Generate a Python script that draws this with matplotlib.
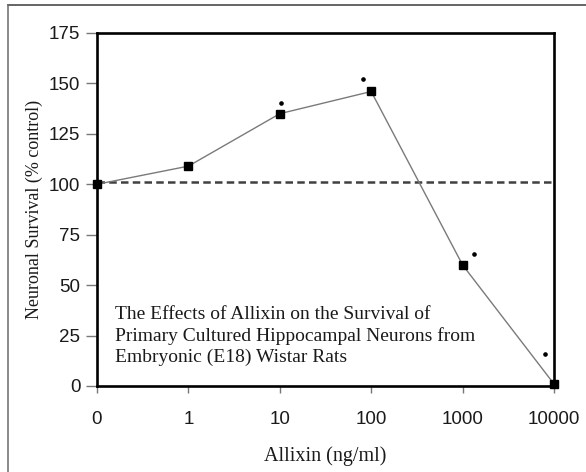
import matplotlib
matplotlib.use("Agg")
import matplotlib.pyplot as plt
from matplotlib.lines import Line2D

# Dose categories (ng/ml) and neuronal survival (% of control)
dose_labels = ["0", "1", "10", "100", "1000", "10000"]
survival = [100, 109, 135, 146, 60, 1]
control_level = 101.3

# Significance markers (category position, value)
sig_x = [2.01, 2.91, 4.12, 4.90]
sig_y = [140.3, 152.2, 65.4, 15.9]

y_ticks = [0, 25, 50, 75, 100, 125, 150, 175]

W, H, DPI = 586, 472, 100
fig = plt.figure(figsize=(W / DPI, H / DPI), dpi=DPI)
fig.patch.set_facecolor("white")

ax = fig.add_axes([97 / W, 1 - 386 / H, (554 - 97) / W, (386 - 33) / H])

x = list(range(len(dose_labels)))

ax.axhline(control_level, color="#404040", lw=1.8, linestyle=(0, (3.0, 1.7)), zorder=2)
ax.plot(x, survival, color="#7a7a7a", lw=1.0, zorder=3)
ax.plot(x, survival, linestyle="none", marker="s", markersize=6.3,
        color="black", zorder=4, clip_on=False)
ax.plot(sig_x, sig_y, linestyle="none", marker="o", markersize=2.3,
        color="black", zorder=4)

ax.set_xlim(0, len(dose_labels) - 1)
ax.set_ylim(0, 175)
ax.set_xticks(x)
ax.set_xticklabels(dose_labels)
ax.set_yticks(y_ticks)

for s in ax.spines.values():
    s.set_linewidth(1.9)
    s.set_color("black")

for lab in ax.get_xticklabels() + ax.get_yticklabels():
    lab.set_fontfamily("Liberation Sans")
    lab.set_fontsize(13.5)
    lab.set_color("#1a1a1a")

ax.tick_params(axis="y", direction="out", length=8, width=1, color="#777777", pad=4)
ax.tick_params(axis="x", direction="out", length=5, width=1, color="#777777", pad=13)

ax.set_xlabel("Allixin (ng/ml)", family="Liberation Serif", fontsize=14.5,
              color="#1a1a1a", labelpad=13)
ax.set_ylabel("Neuronal Survival (% control)", family="Liberation Serif",
              fontsize=13, color="#1a1a1a", labelpad=4)

ax.text(0.04, 0.228,
        "The Effects of Allixin on the Survival of\n"
        "Primary Cultured Hippocampal Neurons from\n"
        "Embryonic (E18) Wistar Rats",
        transform=ax.transAxes, family="Liberation Serif", fontsize=14,
        color="#1a1a1a", ha="left", va="top", linespacing=1.3)

# Outer frame edges along the top and left of the figure
fig.add_artist(Line2D([8 / W, 1], [1 - 5 / H, 1 - 5 / H], transform=fig.transFigure,
                      color="#3a3a3a", lw=1.1))
fig.add_artist(Line2D([8 / W, 8 / W], [0, 1 - 5 / H], transform=fig.transFigure,
                      color="#6a6a6a", lw=1.1))

fig.savefig("out.png", dpi=DPI)
